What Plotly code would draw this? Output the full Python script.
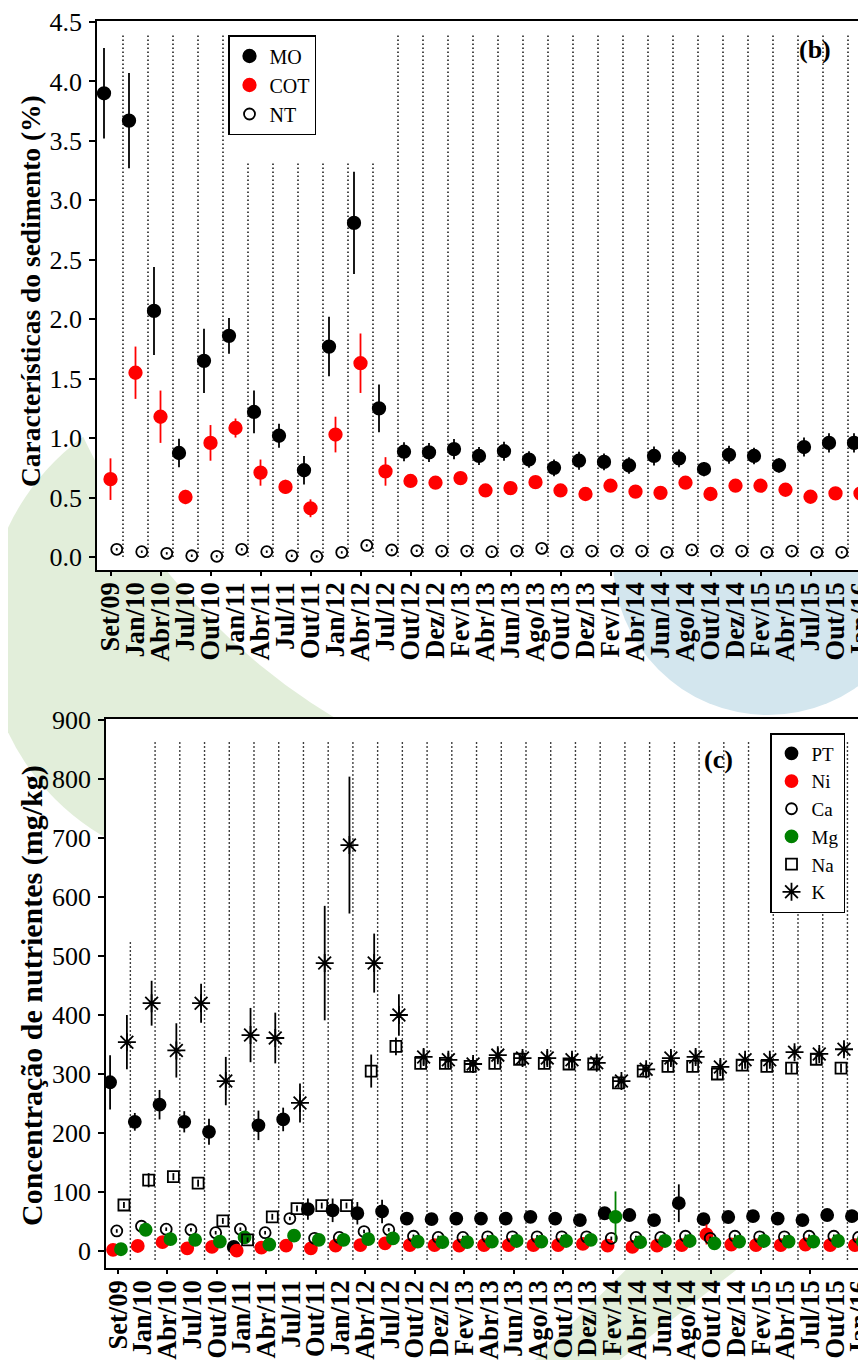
import plotly.graph_objects as go

# page body has an 8px margin: the figure is drawn 8px to the right and down
OFF = 8
W, H = 866 - OFF, 1360 - OFF

# ---------------- data ----------------
categories = ["Set/09","Jan/10","Abr/10","Jul/10","Out/10","Jan/11","Abr/11","Jul/11","Out/11","Jan/12",
              "Abr/12","Jul/12","Out/12","Dez/12","Fev/13","Abr/13","Jun/13","Ago/13","Out/13","Dez/13",
              "Fev/14","Abr/14","Jun/14","Ago/14","Out/14","Dez/14","Fev/15","Abr/15","Jul/15","Out/15","Jan/16"]

# panel (b) - sediment characteristics (%)
MO = [3.90,3.67,2.07,0.875,1.65,1.86,1.22,1.02,0.73,1.77,2.81,1.25,0.886,0.88,0.908,0.85,0.89,0.82,0.75,0.81,
      0.80,0.77,0.85,0.83,0.74,0.86,0.85,0.77,0.925,0.96,0.96]
MO_err = [0.38,0.40,0.37,0.12,0.27,0.15,0.18,0.10,0.12,0.25,0.43,0.20,0.08,0.08,0.085,0.075,0.08,0.07,0.07,0.075,
          0.07,0.07,0.08,0.075,0.06,0.075,0.07,0.06,0.08,0.08,0.08]
COT = [0.655,1.55,1.18,0.505,0.96,1.085,0.71,0.59,0.41,1.03,1.63,0.72,0.64,0.625,0.664,0.56,0.58,0.63,0.56,0.53,
       0.60,0.55,0.54,0.625,0.53,0.60,0.60,0.566,0.507,0.535,0.535]
COT_err = [0.175,0.22,0.22,0.06,0.15,0.08,0.11,0.06,0.075,0.15,0.25,0.12,0.03,0.03,0.03,0.03,0.03,0.03,0.03,0.03,
           0.03,0.03,0.03,0.03,0.03,0.03,0.03,0.03,0.03,0.03,0.03]
NT = [0.065,0.045,0.031,0.011,0.006,0.065,0.045,0.01,0.005,0.039,0.098,0.059,0.053,0.05,0.05,0.045,0.05,0.073,0.045,0.05,
      0.05,0.05,0.04,0.06,0.05,0.05,0.04,0.05,0.04,0.04,0.04]
NT_err = [0.01]*31

# panel (c) - nutrient concentration (mg/kg)
PT = [286,219,248,219,202,7,213,223,71,69,64,67,55,54,55,55,55,58,55,52.5,64,61,52.5,81,54,57.6,59,55,52.5,61,59]
PT_err = [46,15,25,18,22,3,25,20,18,20,19,20,6,6,6,6,6,6,6,6,6,6,6,32,6,6,6,6,6,6,6]
Ni = [2,8.5,15,4.5,7,0.5,5.6,9,4.5,9,10,13,10,10,9,10,10,10,10,12,9,7,9,10,28,11,10,10,11,10,10]
Ni_err = [2,2,3,2,2,1,2,2,2,2,2,3,2,2,2,2,2,2,2,2,2,2,2,2,17,2,2,2,2,2,2]
Ca = [34,42,37,36,31,37,31,55,21.5,23,33,36,25,23,23,24,24,24,24,24,21.5,23,23,25,21.5,25,24,24,25,25,23]
Ca_err = [3]*31
Mg = [3,36,20,19,16,23,11,26,19,19,20,21.5,16,15,15,16,17,16,17,19,58,15,17,17,13,16,17,16,16,17,16]
Mg_err = [2,4,3,3,3,3,3,3,3,3,3,3,2,2,2,2,2,2,2,2,43,2,2,2,2,2,2,2,2,2,2]
Na = [78,120,126,115,51,19,58,72,77,77,305,347,318,318,313,318,325,318,317,317,285,305,313,313,300,315,313,310,325,310,305]
Na_err = [5,12,6,6,5,4,5,5,5,5,28,15,8,8,8,8,8,8,8,8,8,8,8,8,10,8,8,8,8,8,8]
K = [354,420,340,420,288,366,361,251,488,688,488,400,329,324,317,332,327,327,324,319,288,308,327,329,312,324,324,337,334,342,334]
K_err = [46,38,46,33,41,46,43,33,97,116,50,35,13,12,12,12,12,12,12,12,10,10,12,12,12,10,10,10,10,10,10]

# dotted separators between sampling dates (top value of each line)
sep_b_top = [4.39]*5 + [3.31]*6 + [4.39]*19
sep_c_top = [527] + [866]*29

# ---------------- helpers ----------------
FONT = "Liberation Serif"
def px(x): return (x - OFF) / W          # reference pixel -> paper x
def py(y): return 1 - (y - OFF) / H      # reference pixel -> paper y

n = len(categories)
idx = list(range(n))

fig = go.Figure()

def add_series(xa, ya, vals, errs, off, color, symbol, name, legend, size=12, lw=1.8, errcolor=None):
    is_open = "open" in symbol
    fig.add_trace(go.Scatter(
        x=[i + off for i in idx], y=vals, mode="markers", name=name,
        xaxis=xa, yaxis=ya, legend=legend,
        marker=dict(color="black" if is_open else color, symbol=symbol, size=size,
                    line=dict(color="black" if is_open else color, width=lw)),
        error_y=dict(type="data", array=errs, visible=True, color=errcolor or color,
                     thickness=1.8, width=0),
    ))

def add_seps(xa, ya, tops, bottom):
    xs, ys = [], []
    for i, t in enumerate(tops):
        xs += [i + 0.5, i + 0.5, None]
        ys += [bottom, t, None]
    fig.add_trace(go.Scatter(x=xs, y=ys, mode="lines", xaxis=xa, yaxis=ya, showlegend=False,
                             hoverinfo="skip", line=dict(color="black", width=1.4, dash="1.5px,2.5px")))

add_seps("x", "y", sep_b_top, 0.0)
add_seps("x2", "y2", sep_c_top, -15)

# panel b
add_series("x", "y", MO, MO_err, -0.26, "black", "circle", "MO", "legend", size=12.5)
add_series("x", "y", COT, COT_err, 0.0, "red", "circle", "COT", "legend", size=12.5)
add_series("x", "y", NT, NT_err, 0.25, "black", "circle-open", "NT", "legend", size=11, errcolor="black")

# panel c
add_series("x2", "y2", PT, PT_err, -0.32, "black", "circle", "PT", "legend2")
add_series("x2", "y2", Ni, Ni_err, -0.2, "red", "circle", "Ni", "legend2")
add_series("x2", "y2", Ca, Ca_err, -0.05, "black", "circle-open", "Ca", "legend2", size=11, errcolor="black")
add_series("x2", "y2", Mg, Mg_err, 0.12, "green", "circle", "Mg", "legend2")
add_series("x2", "y2", Na, Na_err, 0.24, "black", "square-open", "Na", "legend2", size=11, errcolor="black")
add_series("x2", "y2", K, K_err, 0.36, "black", "asterisk-open", "K", "legend2", size=15, lw=1.8, errcolor="black")

# dummy traces for tick-only overlay axes
fig.add_trace(go.Scatter(x=[], y=[], xaxis="x3", yaxis="y", showlegend=False))
fig.add_trace(go.Scatter(x=[], y=[], xaxis="x4", yaxis="y2", showlegend=False))

xb_dom = [px(97), 1.0]
yb_dom = [py(570), py(21)]
xc_dom = [px(106), 1.0]
yc_dom = [py(1268), py(719)]
xb_rng = [-0.54, 30.22]
xc_rng = [-0.485, 30.25]

tickfont_x = dict(family=FONT, size=26.5, color="black", weight="bold")
tickfont_y = dict(family=FONT, size=26, color="black")

xcommon = dict(showgrid=False, zeroline=False, showline=True, linecolor="black", linewidth=1.5,
               mirror=True, tickmode="array", tickvals=idx, ticktext=categories, ticks="",
               tickangle=-90, tickfont=tickfont_x, automargin=False, ticklabelstandoff=0,
               ticklabeloverflow="allow")
ycommon = dict(showgrid=False, zeroline=False, showline=True, linecolor="black", linewidth=1.5,
               ticks="outside", ticklen=6, tickwidth=1.5, tickcolor="black", tickfont=tickfont_y,
               automargin=False, ticklabelstandoff=2)
tickonly = dict(showgrid=False, zeroline=False, showline=False, tickmode="array",
                tickvals=list(range(0, n, 2)), ticks="outside", ticklen=5, tickwidth=1.5,
                tickcolor="black", showticklabels=False)

# background watermark shapes (page decoration behind the panels)
shapes = [
    dict(type="circle", xref="paper", yref="paper", layer="below",
         x0=px(224-239), x1=px(224+239), y0=py(630+239), y1=py(630-239),
         fillcolor="#e2eeda", line=dict(width=0)),
    dict(type="circle", xref="paper", yref="paper", layer="below",
         x0=px(671-648), x1=px(671+648), y0=py(164+648), y1=py(164-648),
         fillcolor="white", line=dict(width=0)),
    dict(type="circle", xref="paper", yref="paper", layer="below",
         x0=px(768-155), x1=px(768+155), y0=py(560+155), y1=py(560-155),
         fillcolor="#d3e6ee", line=dict(width=0)),
    dict(type="path", xref="paper", yref="paper", layer="below",
         path=f"M {px(666)},{py(1230)} L {px(788)},{py(1230)} L {px(617)},{py(1362)} L {px(533)},{py(1362)} Z",
         fillcolor="#e2eeda", line=dict(width=0)),
    dict(type="rect", xref="paper", yref="paper", layer="below",
         x0=xb_dom[0], x1=xb_dom[1], y0=yb_dom[0], y1=yb_dom[1], fillcolor="white", line=dict(width=0)),
    dict(type="rect", xref="paper", yref="paper", layer="below",
         x0=xc_dom[0], x1=xc_dom[1], y0=yc_dom[0], y1=yc_dom[1], fillcolor="white", line=dict(width=0)),
]

annotations = [
    dict(text="Características do sedimento (%)", x=px(30), y=py(291), xref="paper", yref="paper",
         textangle=-90, showarrow=False, font=dict(family=FONT, size=27.5, color="black", weight="bold"),
         xanchor="center", yanchor="middle"),
    dict(text="Concentração de nutrientes (mg/kg)", x=px(32), y=py(996), xref="paper", yref="paper",
         textangle=-90, showarrow=False, font=dict(family=FONT, size=30, color="black", weight="bold"),
         xanchor="center", yanchor="middle"),
    dict(text="(b)", x=px(815), y=py(50), xref="paper", yref="paper", showarrow=False,
         font=dict(family=FONT, size=26, color="black", weight="bold"), xanchor="center", yanchor="middle"),
    dict(text="(c)", x=px(718), y=py(760), xref="paper", yref="paper", showarrow=False,
         font=dict(family=FONT, size=26, color="black", weight="bold"), xanchor="center", yanchor="middle"),
]

legend_common = dict(bgcolor="white", bordercolor="black", borderwidth=1.5,
                     xanchor="left", yanchor="top", itemwidth=30, tracegroupgap=0)

fig.update_layout(
    width=W, height=H, margin=dict(l=0, r=0, t=0, b=0),
    paper_bgcolor="white", plot_bgcolor="white",
    showlegend=True,
    xaxis=dict(domain=xb_dom, range=xb_rng, anchor="y", **xcommon),
    yaxis=dict(domain=yb_dom, range=[-0.109, 4.508], anchor="x", tickvals=[i*0.5 for i in range(10)],
               tickformat=".1f", **ycommon),
    xaxis2=dict(domain=xc_dom, range=xc_rng, anchor="y2", **xcommon),
    yaxis2=dict(domain=yc_dom, range=[-28.8, 901.7], anchor="x2", tickvals=list(range(0, 901, 100)), **ycommon),
    xaxis3=dict(overlaying="x", anchor="y", range=xb_rng, side="bottom", **tickonly),
    xaxis4=dict(overlaying="x2", anchor="y2", range=xc_rng, side="bottom", **tickonly),
    legend=dict(x=px(228), y=py(35), font=dict(family=FONT, size=20, color="black"), **legend_common),
    legend2=dict(x=px(770), y=py(733), font=dict(family=FONT, size=19, color="black"), **legend_common),
    shapes=shapes, annotations=annotations,
)

fig.write_html("out.html")
